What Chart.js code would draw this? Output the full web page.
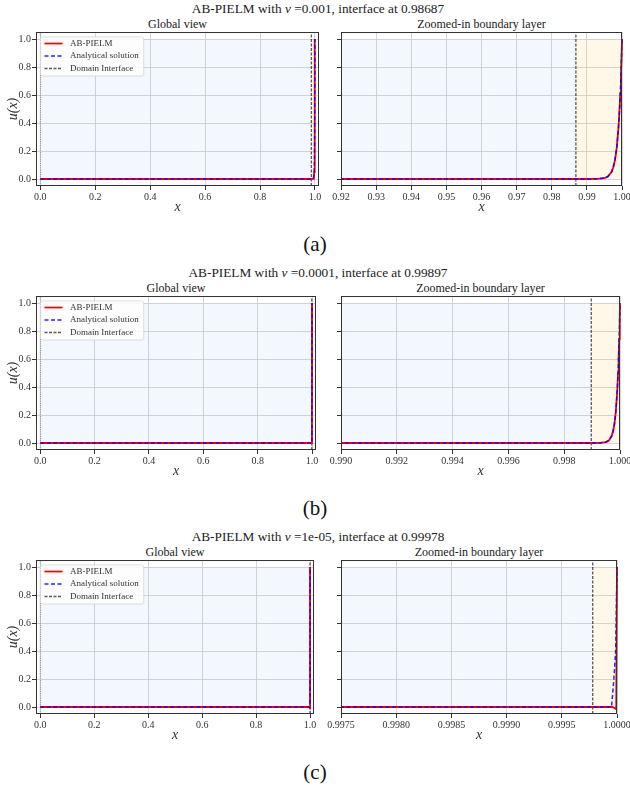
<!DOCTYPE html>
<html>
<head>
<meta charset="utf-8">
<script src="https://cdn.jsdelivr.net/npm/chart.js@4.4.1/dist/chart.umd.min.js"></script>
<style>
  body { margin: 0; width: 630px; height: 786px; background: #fff; position: relative; overflow: hidden; font-family: "Liberation Serif", serif; color: #222; }
  .txt { position: absolute; transform: translate(-50%, -50%); white-space: nowrap; line-height: 1; }
  .sup { font-size: 13.3px; }
  .sub { font-size: 12px; }
  .cap { font-size: 21px; color: #111; }
  canvas { position: absolute; }
</style>
</head>
<body>
<div id="page"></div>
<script>
// ---- data ----
const rowLetters = ['(a)', '(b)', '(c)'];
const nuLabels = ['0.001', '0.0001', '1e-05'];
const interfaces = [0.98687, 0.99897, 0.99978];
const zoomMins = [0.92, 0.99, 0.9975];
const zoomDecimals = [2, 3, 4];

const globalTicks = [0, 0.2, 0.4, 0.6, 0.8, 1.0];
const zoomTicksA = [0.92, 0.93, 0.94, 0.95, 0.96, 0.97, 0.98, 0.99, 1.00];
const zoomTicksB = [0.990, 0.992, 0.994, 0.996, 0.998, 1.000];
const zoomTicksC = [0.9975, 0.9980, 0.9985, 0.9990, 0.9995, 1.0000];
const yTicks = [0, 0.2, 0.4, 0.6, 0.8, 1.0];

// (a) nu = 0.001
const xA = [0, 0.99, 0.993, 0.995, 0.996, 0.997, 0.9975, 0.998, 0.9985, 0.999, 0.9993, 0.9995, 0.9997, 0.9999, 1.0];
const pielmA = [0, 0, 0.001, 0.007, 0.018, 0.05, 0.082, 0.135, 0.223, 0.368, 0.497, 0.607, 0.741, 0.905, 1.0];
const exactA = [0, 0, 0.001, 0.007, 0.018, 0.05, 0.082, 0.135, 0.223, 0.368, 0.497, 0.607, 0.741, 0.905, 1.0];

// (b) nu = 0.0001
const xB = [0, 0.999, 0.9993, 0.9995, 0.9996, 0.9997, 0.99975, 0.9998, 0.99985, 0.9999, 0.99993, 0.99995, 0.99997, 0.99999, 1.0];
const pielmB = [0, 0, 0.001, 0.007, 0.018, 0.05, 0.082, 0.135, 0.223, 0.368, 0.497, 0.607, 0.741, 0.905, 1.0];
const exactB = [0, 0, 0.001, 0.007, 0.018, 0.05, 0.082, 0.135, 0.223, 0.368, 0.497, 0.607, 0.741, 0.905, 1.0];

// (c) nu = 1e-05
const xPielmC = [0, 0.99996, 0.999993, 1.0];
const pielmC = [0, 0, -0.015, 1.0];
const xExactC = [0, 0.99995, 0.99997, 0.999988, 1.0];
const exactC = [0, 0, 0.18, 0.40, 1.0];

const rows = [
  { xp: xA, up: pielmA, xe: xA, ue: exactA, zt: zoomTicksA },
  { xp: xB, up: pielmB, xe: xB, ue: exactB, zt: zoomTicksB },
  { xp: xPielmC, up: pielmC, xe: xExactC, ue: exactC, zt: zoomTicksC }
];

// ---- layout ----
const FONT = '"Liberation Serif", serif';
const ROW_H = 264;
const globalRight = [3, 6, 8];   // right padding of the left panels
const zoomRight = [8, 10, 13];   // right padding of the right panels

const page = document.getElementById('page');
function addText(cls, html, x, y) {
  const d = document.createElement('div');
  d.className = 'txt ' + cls;
  d.innerHTML = html;
  d.style.left = x + 'px';
  d.style.top = y + 'px';
  page.appendChild(d);
}
function addCanvas(left, top, w, h) {
  const c = document.createElement('canvas');
  c.width = w; c.height = h;
  c.style.left = left + 'px'; c.style.top = top + 'px';
  c.style.width = w + 'px'; c.style.height = h + 'px';
  page.appendChild(c);
  return c;
}
const pts = (xs, ys) => xs.map((x, i) => ({ x, y: ys[i] }));

// frame around the axes + boxed legend in the upper left
const framePlugin = {
  id: 'frameLegend',
  afterDatasetsDraw(chart, args, opts) {
    const a = chart.chartArea, ctx = chart.ctx;
    ctx.save();
    ctx.strokeStyle = '#333';
    ctx.lineWidth = 1;
    ctx.strokeRect(Math.round(a.left) + 0.5, Math.round(a.top) + 0.5,
      Math.round(a.right - a.left) - 1, Math.round(a.bottom - a.top) - 1);
    if (opts.show) {
      const items = chart.data.datasets.filter(d => d.inLegend);
      ctx.font = '9px ' + FONT;
      const tw = Math.max(...items.map(d => ctx.measureText(d.label).width));
      const x0 = a.left + 4.5, y0 = a.top + 5;
      const w = 29.5 + tw + 5, h = 39;
      ctx.fillStyle = 'rgba(255,255,255,0.85)';
      ctx.strokeStyle = '#d6d6d6';
      ctx.lineWidth = 0.8;
      ctx.beginPath();
      ctx.roundRect(x0, y0, w, h, 2);
      ctx.fill();
      ctx.stroke();
      items.forEach((d, i) => {
        const cy = y0 + 6.5 + i * 12.5;
        ctx.strokeStyle = d.borderColor;
        ctx.lineWidth = d.borderWidth;
        ctx.setLineDash(d.borderDash || []);
        ctx.beginPath();
        ctx.moveTo(x0 + 4, cy);
        ctx.lineTo(x0 + 22, cy);
        ctx.stroke();
        ctx.setLineDash([]);
        ctx.fillStyle = '#333';
        ctx.textBaseline = 'middle';
        ctx.fillText(d.label, x0 + 29.5, cy);
      });
    }
    ctx.restore();
  }
};

function makeChart(canvas, r, zoomed) {
  const row = rows[r];
  const iface = interfaces[r];
  const xTicks = zoomed ? row.zt : globalTicks;
  const dec = zoomed ? zoomDecimals[r] : 1;
  const edgeClip = { left: 0, top: 1, right: 2, bottom: 1 };
  const datasets = [
    { label: 'AB-PIELM', inLegend: true, data: pts(row.xp, row.up),
      borderColor: '#ff0000', borderWidth: 1.8, order: 2, clip: edgeClip },
    { label: 'Analytical solution', inLegend: true, data: pts(row.xe, row.ue),
      borderColor: 'rgba(0,0,255,0.85)', borderWidth: 1.5, borderDash: [4, 2.5], order: 1, clip: edgeClip },
    { label: 'Domain Interface', inLegend: true, data: [{ x: iface, y: -0.05 }, { x: iface, y: 1.05 }],
      borderColor: 'rgba(0,0,0,0.65)', borderWidth: 1.3, borderDash: [3, 1.5], order: 3 },
    { label: 'left region', data: [{ x: 0, y: 1 }, { x: iface, y: 1 }], fill: { value: 0 },
      backgroundColor: 'rgba(100,149,237,0.08)', borderWidth: 0, order: 10 },
    { label: 'boundary layer region', data: [{ x: iface, y: 1 }, { x: 1, y: 1 }], fill: { value: 0 },
      backgroundColor: 'rgba(255,165,0,0.09)', borderWidth: 0, order: 11 }
  ];
  if (!zoomed) {
    datasets.push({ label: 'x = 0', data: [{ x: 0, y: -0.05 }, { x: 0, y: 1.05 }],
      borderColor: 'rgba(0,0,0,0.5)', borderWidth: 0.8, borderDash: [1, 1.2], order: 4 });
  }
  return new Chart(canvas, {
    type: 'line',
    data: { datasets },
    options: {
      responsive: false,
      animation: false,
      events: [],
      devicePixelRatio: 1,
      elements: { point: { radius: 0 }, line: { tension: 0 } },
      layout: { padding: { top: 2, right: zoomed ? zoomRight[r] : globalRight[r], left: 0, bottom: 0 } },
      plugins: { legend: { display: false }, tooltip: { enabled: false }, frameLegend: { show: !zoomed } },
      scales: {
        x: {
          type: 'linear',
          min: zoomed ? zoomMins[r] : -0.0157,
          max: zoomed ? 1.0 : 1.0146,
          afterBuildTicks: s => { s.ticks = xTicks.map(v => ({ value: v })); },
          ticks: { callback: v => Number(v).toFixed(dec), font: { family: FONT, size: 10 }, color: '#333',
            padding: 1, maxRotation: 0, autoSkip: false },
          grid: { color: '#cbcbcb', lineWidth: 0.8, tickColor: '#333', tickLength: 4, tickWidth: 1 },
          border: { display: false },
          title: { display: true, text: 'x', color: '#333',
            font: { family: FONT, size: 14, style: 'italic' }, padding: { top: 0, bottom: 0 } },
          afterFit: s => { s.height = 30; s.paddingLeft = 0; s.paddingRight = 0; }
        },
        y: {
          type: 'linear',
          min: -0.05,
          max: 1.05,
          afterBuildTicks: s => { s.ticks = yTicks.map(v => ({ value: v })); },
          ticks: { display: !zoomed, callback: v => Number(v).toFixed(1), font: { family: FONT, size: 10 },
            color: '#333', padding: 1 },
          grid: { color: '#cbcbcb', lineWidth: 0.8, tickColor: '#333', tickLength: 4, tickWidth: 1 },
          border: { display: false },
          title: { display: !zoomed, text: 'u(x)', color: '#333',
            font: { family: FONT, size: 14, style: 'italic' }, padding: { top: 4.6, bottom: 0 } },
          afterFit: s => { s.width = zoomed ? 19 : 36; s.paddingTop = 0; s.paddingBottom = 0; }
        }
      }
    },
    plugins: [framePlugin]
  });
}

for (let r = 0; r < 3; r++) {
  const off = r * ROW_H;
  addText('sup', 'AB-PIELM with <i>ν</i> =' + nuLabels[r] + ', interface at ' + interfaces[r].toFixed(5), 318, 9 + off);
  const gRight = 322 - globalRight[r];
  const zRight = 630 - zoomRight[r];
  addText('sub', 'Global view', (36 + gRight) / 2, 24 + off);
  addText('sub', 'Zoomed-in boundary layer', (341 + zRight) / 2, 24 + off);
  addText('cap', rowLetters[r], 315, 244 + off);
  makeChart(addCanvas(0, 30 + off, 322, 186), r, false);
  makeChart(addCanvas(322, 30 + off, 308, 186), r, true);
}
</script>
</body>
</html>
